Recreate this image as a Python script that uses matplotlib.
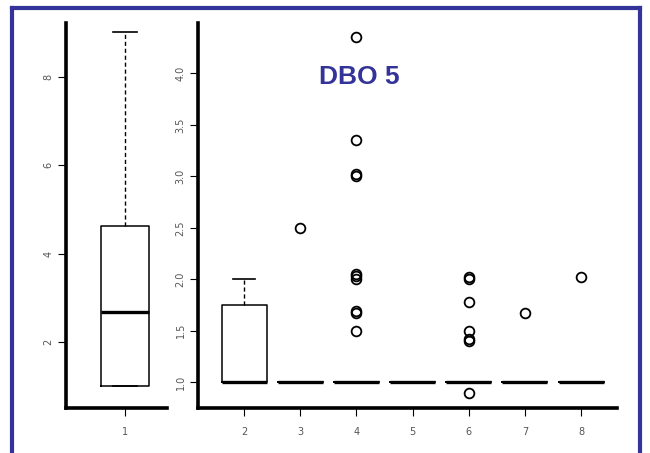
import matplotlib
matplotlib.use("Agg")
import matplotlib.pyplot as plt
from matplotlib.lines import Line2D

# left panel: one group
left_pos = [1]
left_q1 = [1.0]
left_med = [2.68]
left_q3 = [4.63]
left_lo = [1.0]
left_hi = [9.0]
left_yticks = [2, 4, 6, 8]

# right panel: groups 2..8
right_pos = [2, 3, 4, 5, 6, 7, 8]
right_q1 = [1.0, 1.0, 1.0, 1.0, 1.0, 1.0, 1.0]
right_med = [1.0, 1.0, 1.0, 1.0, 1.0, 1.0, 1.0]
right_q3 = [1.75, 1.0, 1.0, 1.0, 1.0, 1.0, 1.0]
right_lo = [1.0, 1.0, 1.0, 1.0, 1.0, 1.0, 1.0]
right_hi = [2.0, 1.0, 1.0, 1.0, 1.0, 1.0, 1.0]
right_fliers = [
    [],
    [2.5],
    [4.35, 3.35, 3.0, 3.02, 2.0, 2.03, 2.05, 1.67, 1.69, 1.5],
    [],
    [2.0, 2.02, 1.78, 1.5, 1.4, 1.42, 0.9],
    [1.67],
    [2.02],
]
right_yticks = [1.0, 1.5, 2.0, 2.5, 3.0, 3.5, 4.0]

title = "DBO 5"
frame_col = "#333399"
tick_col = "#555555"

fig = plt.figure(figsize=(6.5, 4.53), dpi=100)

# blue frame (bottom edge runs off the picture)
for xs, ys in [([0.0185, 0.0185], [-0.1, 0.983]),
               ([0.0185, 0.9845], [0.983, 0.983]),
               ([0.9845, 0.9845], [0.983, -0.1])]:
    fig.add_artist(Line2D(xs, ys, color=frame_col, lw=3, transform=fig.transFigure))


def make_stats(q1, med, q3, lo, hi, fliers):
    return [dict(q1=a, med=b, q3=c, whislo=d, whishi=e, fliers=f)
            for a, b, c, d, e, f in zip(q1, med, q3, lo, hi, fliers)]


def style_axes(ax):
    for s in ["top", "right"]:
        ax.spines[s].set_visible(False)
    for s in ["left", "bottom"]:
        ax.spines[s].set_linewidth(2.6)
    ax.tick_params(axis="both", length=6, width=0.8, colors="black",
                   labelcolor=tick_col, labelsize=7)
    ax.tick_params(axis="y", labelrotation=90, pad=3)
    ax.tick_params(axis="x", pad=8)
    for lab in ax.get_yticklabels():
        lab.set_va("center")


box_kw = dict(
    boxprops=dict(color="black", lw=1.1),
    medianprops=dict(color="black", lw=2.4, solid_capstyle="butt"),
    whiskerprops=dict(color="black", lw=1.0, ls=(0, (3, 2))),
    capprops=dict(color="black", lw=1.2),
    flierprops=dict(marker="o", markersize=7, markerfacecolor="none",
                    markeredgecolor="black", markeredgewidth=1.3),
    widths=0.8, capwidths=0.4,
)

ax1 = fig.add_axes([0.1015, 0.0993, 0.1554, 0.85])
ax1.bxp(make_stats(left_q1, left_med, left_q3, left_lo, left_hi, [[]]),
        positions=left_pos, **box_kw)
ax1.set_xlim(0.0, 1.71)
ax1.set_ylim(0.51, 9.21)
ax1.set_yticks(left_yticks)
ax1.set_xticks(left_pos)
ax1.set_xticklabels([str(p) for p in left_pos])
style_axes(ax1)

ax2 = fig.add_axes([0.3046, 0.0993, 0.6446, 0.85])
ax2.bxp(make_stats(right_q1, right_med, right_q3, right_lo, right_hi, right_fliers),
        positions=right_pos, **box_kw)
ax2.set_xlim(1.18, 8.64)
ax2.set_ylim(0.75, 4.49)
ax2.set_yticks(right_yticks)
ax2.set_yticklabels(["%.1f" % v for v in right_yticks])
ax2.set_xticks(right_pos)
ax2.set_xticklabels([str(p) for p in right_pos])
style_axes(ax2)

fig.text(0.553, 0.83, title, color=frame_col, fontsize=19, fontweight="bold",
         ha="center", va="center", family="Liberation Sans")

fig.savefig("out.png", dpi=100)
